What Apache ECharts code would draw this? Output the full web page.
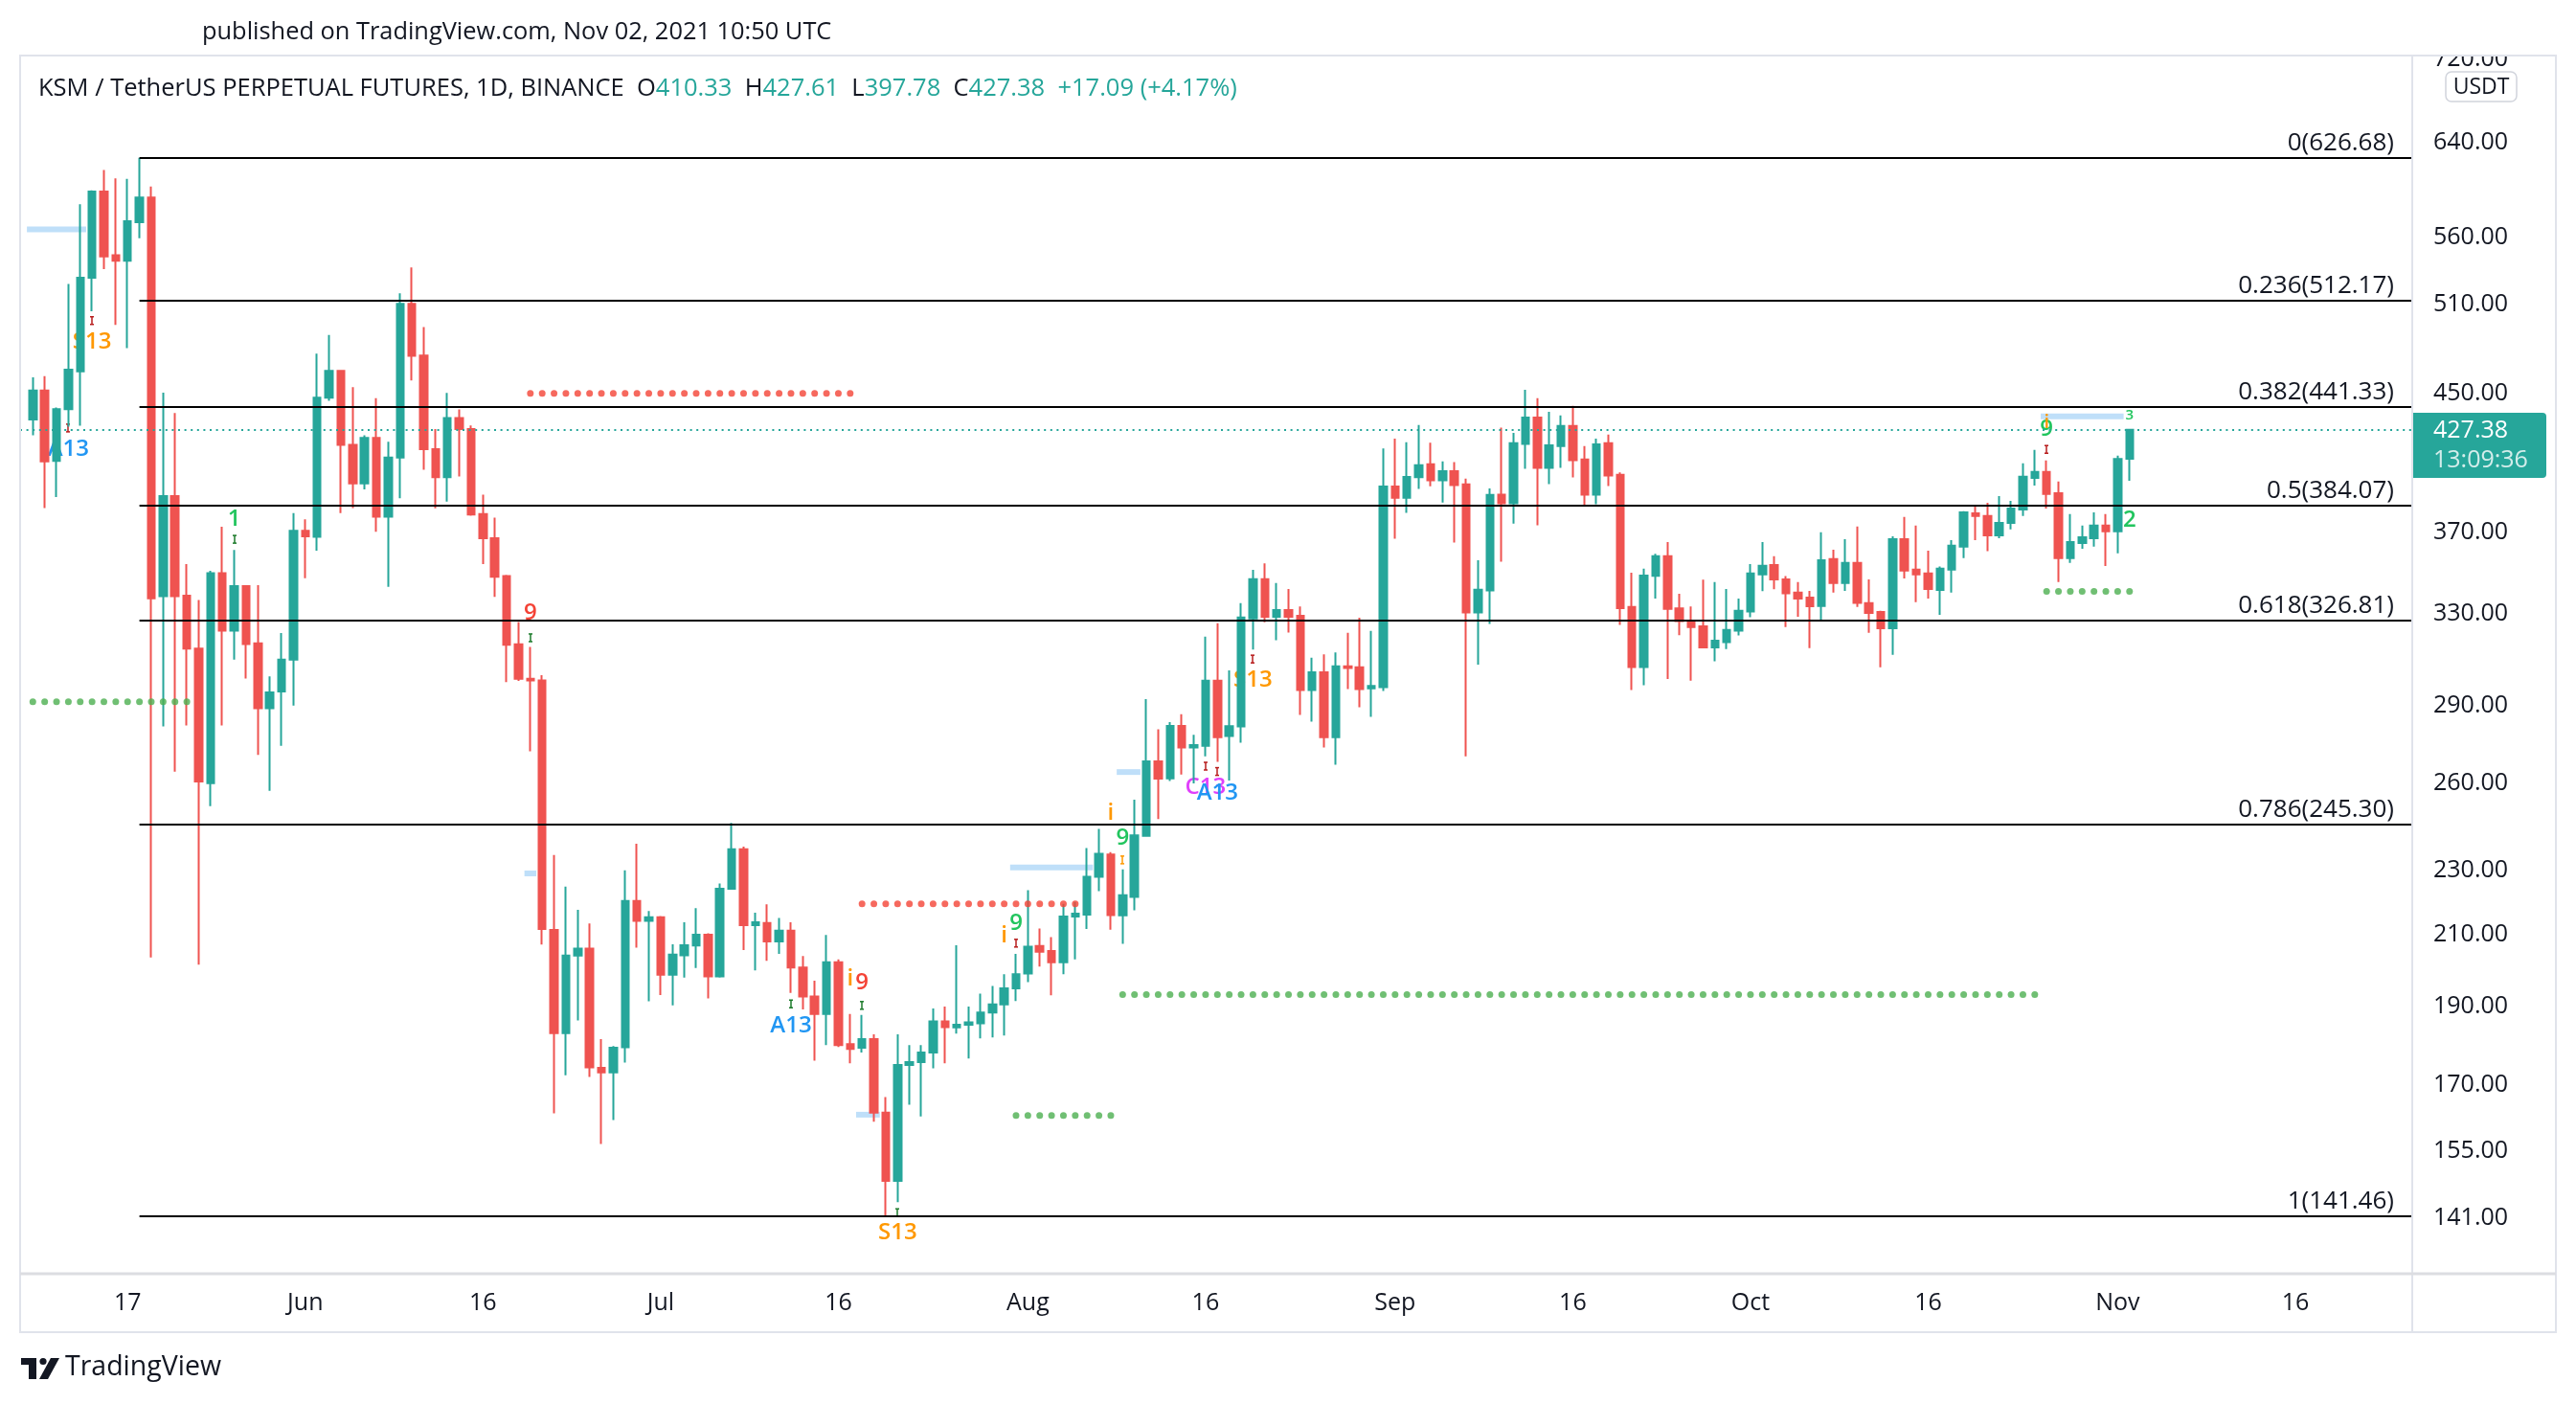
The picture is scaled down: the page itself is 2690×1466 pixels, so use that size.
<!DOCTYPE html>
<html><head><meta charset="utf-8">
<script src="https://cdn.jsdelivr.net/npm/echarts@6/dist/echarts.min.js"></script>
<style>html,body{margin:0;padding:0;background:#fff}#c{width:2690px;height:1466px}</style>
</head><body><div id="c"></div>
<script>
// ---------- DATA ----------
const firstDay = '2021-05-09';
const dayCount = 201; // categories May 9 .. Nov 25 (empty space on the right)
// daily candles [open, high, low, close], May 9 .. Nov 2 2021
const ohlc = [
[433.6,460.2,424.2,451.7],[451.7,460.9,382.8,408.8],[409.1,441.0,388.8,440.0],[440.0,524.8,429.3,465.2],
[464.1,587.0,429.9,529.3],[529.3,598.6,504.9,597.6],[597.6,615.9,535.8,545.5],[546.3,608.8,495.3,542.1],
[542.1,608.3,479.4,573.2],[572.3,626.68,559.6,592.6],[592.6,601.8,203.5,337.2],[338.2,450.3,281.6,389.3],
[389.3,437.6,264.2,338.2],[338.5,353.8,282.0,314.2],[314.2,336.4,201.4,260.6],[260.0,350.5,251.7,349.4],
[349.4,372.9,282.0,322.2],[322.2,361.0,309.4,343.0],[343.0,343.5,301.2,316.2],[316.5,343.5,270.5,288.9],
[288.9,302.1,257.2,295.4],[295.8,321.1,274.0,309.4],[309.4,380.1,290.0,370.8],[370.8,376.9,346.9,368.0],
[367.7,475.7,360.6,447.2],[447.2,488.4,445.2,464.4],[464.4,465.0,380.1,418.4],[418.4,453.8,382.8,396.4],
[396.4,424.2,393.0,422.6],[422.6,446.8,370.3,378.3],[378.3,420.3,342.7,411.0],[411.0,517.9,388.2,510.3],
[510.3,537.1,458.1,474.3],[474.5,493.9,404.0,416.0],[416.0,427.8,382.7,399.9],[399.9,450.2,386.3,434.5],
[434.5,439.8,400.2,427.8],[427.8,430.0,378.8,379.4],[379.7,390.2,353.9,367.0],[367.0,377.7,337.9,347.6],
[347.9,348.5,299.7,315.9],[316.1,326.1,300.2,301.1],[301.1,314.9,271.9,300.4],[300.4,302.7,207.2,211.8],
[211.5,235.0,163.4,182.9],[182.9,224.8,172.4,204.0],[204.0,217.6,186.2,206.0],[206.0,213.4,172.0,174.3],
[174.2,181.4,156.5,173.1],[173.1,179.6,161.9,179.2],[179.3,230.0,175.5,220.3],[220.3,238.8,206.3,214.2],
[214.2,217.2,191.3,215.3],[215.3,215.7,193.0,198.6],[198.6,207.3,190.2,204.3],[204.1,213.8,197.8,207.0],
[206.9,218.1,200.5,210.1],[210.1,210.5,192.1,198.1],[198.1,225.8,197.8,224.1],[224.1,245.9,224.0,236.9],
[236.9,237.8,205.6,212.9],[212.9,216.7,199.8,213.8],[213.6,219.3,202.5,208.1],[208.1,215.1,204.5,211.3],
[211.3,213.8,193.6,200.6],[200.6,203.9,189.1,192.6],[192.6,196.9,176.0,187.9],[187.9,210.0,179.9,202.1],
[202.1,202.9,179.4,179.9],[180.1,187.9,175.3,178.9],[179.2,187.7,178.0,181.4],[181.4,182.6,161.5,163.6],
[163.6,167.2,141.46,148.6],[148.6,182.6,144.2,174.9],[174.9,179.9,165.4,175.6],[175.6,179.9,162.7,178.0],
[178.0,189.4,174.1,186.0],[186.0,189.9,175.3,184.5],[184.4,207.0,182.8,185.1],[185.1,189.9,176.5,185.7],
[185.5,193.4,181.6,188.3],[188.3,195.5,181.8,190.5],[190.5,198.7,182.3,194.8],[194.8,204.5,191.4,198.7],
[198.9,223.7,196.5,206.6],[206.8,211.9,200.9,205.1],[205.3,209.4,192.9,202.1],[202.1,219.4,198.7,215.5],
[215.5,220.0,202.9,216.4],[216.1,237.3,211.8,227.9],[227.9,243.8,223.4,235.4],[235.2,236.0,211.6,216.0],
[215.9,230.3,207.4,222.1],[221.6,254.0,217.4,241.6],[241.4,292.6,241.1,268.1],[268.1,280.5,247.2,261.7],
[261.8,283.3,260.8,281.8],[281.8,286.5,263.2,273.4],[273.4,278.3,259.9,274.3],[274.0,319.5,270.0,300.3],
[300.3,325.6,267.9,277.4],[277.8,304.7,261.0,281.7],[281.6,334.9,275.2,328.2],[327.8,351.0,313.8,346.4],
[346.4,354.2,326.0,328.6],[328.6,344.5,317.9,331.7],[331.7,341.7,321.3,328.6],[329.0,333.4,286.2,296.4],
[296.4,310.2,283.5,303.9],[303.9,311.7,273.4,277.4],[277.4,312.5,266.8,306.4],[306.4,321.2,296.8,305.7],
[306.0,328.1,289.3,296.8],[297.1,322.1,285.4,298.1],[297.6,416.4,296.0,394.7],[394.7,422.2,366.7,388.5],
[388.5,420.0,380.3,400.0],[399.8,430.3,393.3,406.6],[407.2,419.8,394.8,398.1],[398.1,408.8,385.8,403.3],
[403.3,408.5,364.7,395.4],[395.8,399.0,270.0,330.6],[330.6,355.8,307.2,341.3],[341.0,393.6,325.3,390.0],
[390.1,428.7,355.0,385.4],[385.4,425.6,374.6,419.4],[419.0,452.2,404.6,434.9],[434.9,446.8,373.7,405.1],
[405.1,438.4,396.0,418.2],[417.8,436.1,405.1,429.7],[429.7,442.0,399.7,409.5],[409.9,417.7,383.9,390.1],
[390.1,422.2,384.9,418.8],[419.4,424.5,394.9,400.8],[401.2,402.6,324.8,332.6],[333.1,349.6,296.4,306.1],
[306.1,351.6,298.4,348.2],[348.0,359.0,337.1,357.8],[357.8,365.0,301.0,332.2],[332.5,339.4,320.2,326.6],
[326.7,333.4,300.3,323.8],[324.2,346.2,314.5,314.7],[314.7,345.0,308.6,317.7],[317.1,341.7,314.0,322.5],
[322.2,337.1,320.1,331.3],[331.0,353.9,328.3,349.2],[348.8,365.0,340.6,353.0],[353.4,357.8,341.5,346.3],
[346.3,347.9,323.8,339.6],[339.9,345.0,328.6,337.1],[337.6,340.8,314.4,333.5],[333.6,370.0,326.7,355.8],
[356.3,361.1,339.9,344.5],[344.5,366.5,340.8,354.4],[354.4,373.0,333.1,335.1],[334.9,346.3,321.2,330.4],
[330.8,331.3,306.0,323.3],[323.3,368.0,311.4,366.5],[366.5,378.1,346.8,350.6],[351.1,373.5,335.4,348.7],
[349.2,360.6,337.1,341.7],[341.2,352.6,329.5,351.6],[351.1,366.0,339.9,363.1],[362.6,381.2,356.8,380.6],
[380.0,383.7,366.0,378.6],[378.6,385.7,360.3,368.5],[368.5,389.4,367.0,375.0],[375.0,386.7,371.6,382.6],
[382.1,407.7,378.6,400.1],[399.5,415.5,395.2,402.8],[402.8,409.4,382.6,390.5],[391.0,397.4,345.0,356.8],
[356.8,379.6,354.4,365.0],[364.5,373.5,361.6,367.5],[367.0,380.6,362.6,373.5],[373.5,379.6,352.9,370.5],
[370.5,412.1,359.2,410.29],[410.33,427.61,397.78,427.38]
];
// Fibonacci retracement
const fibStart = '2021-05-18';
const fibRatios = ['0','0.236','0.382','0.5','0.618','0.786','1'];
const fibPrices = [626.68,512.17,441.33,384.07,326.81,245.30,141.46];
// price-axis tick labels
const tickValues = [720,640,560,510,450,370,330,290,260,230,210,190,170,155,141];
// time-axis labels
const timeLabels = [['2021-05-17','17'],['2021-06-01','Jun'],['2021-06-16','16'],['2021-07-01','Jul'],
  ['2021-07-16','16'],['2021-08-01','Aug'],['2021-08-16','16'],['2021-09-01','Sep'],['2021-09-16','16'],
  ['2021-10-01','Oct'],['2021-10-16','16'],['2021-11-01','Nov'],['2021-11-16','16']];
// TD dotted levels [start, end, price, colour]
const dotLevels = [
  ['2021-05-09','2021-05-22',291.5,'g'],
  ['2021-06-20','2021-07-17',449.9,'r'],
  ['2021-07-18','2021-08-05',219.4,'r'],
  ['2021-07-31','2021-08-08',162.9,'g'],
  ['2021-08-09','2021-10-25',193.1,'g'],
  ['2021-10-26','2021-11-02',340.5,'g']
];
// light-blue TD lines [start, end, price]
const blueBars = [
  ['2021-05-09','2021-05-13',566.7],
  ['2021-06-20','2021-06-20',229.0],
  ['2021-07-18','2021-07-19',163.1],
  ['2021-07-31','2021-08-06',230.9],
  ['2021-08-09','2021-08-10',264.1],
  ['2021-10-26','2021-11-01',435.5]
];
// TD sequential labels [date, price, text, colour, size]
const tdLabels = [
  ['2021-05-14',483.8,'S13','o',24],['2021-05-12',416.0,'A13','b',24],['2021-05-26',376.9,'1','g',24],
  ['2021-06-20',330.3,'9','r',24],['2021-07-12',184.8,'A13','b',24],['2021-07-17',197.4,'i','o',24],
  ['2021-07-18',196.4,'9','r',24],['2021-07-21',138.1,'S13','o',24],['2021-07-30',209.8,'i','o',24],
  ['2021-07-31',213.5,'9','g',24],['2021-08-08',249.2,'i','o',24],['2021-08-09',240.8,'9','g',24],
  ['2021-08-16',258.6,'C13','m',24],['2021-08-17',256.4,'A13','b',24],['2021-08-20',300.6,'S13','o',24],
  ['2021-10-26',427.7,'9','g',24],['2021-10-26',431.6,'i','o',20],['2021-11-02',435.9,'3','g',15],
  ['2021-11-02',376.4,'2','g',24]
];
// small TD bar markers [date, price, colour]
const tdMarks = [
  ['2021-05-14',498.4,'dr'],['2021-05-12',428.5,'dr'],['2021-05-26',366.4,'dg'],['2021-06-20',319.0,'dg'],
  ['2021-07-12',190.6,'dg'],['2021-07-18',190.2,'dg'],['2021-07-21',142.1,'dg'],['2021-07-31',207.6,'dr'],
  ['2021-08-09',233.4,'o'],['2021-08-16',266.3,'dr'],['2021-08-17',264.3,'dr'],['2021-08-20',309.6,'dr'],
  ['2021-10-26',415.8,'dr']
];
const countdown = '13:09:36';

// ---------- BUILD ----------
const dates = [];
{ const d0 = new Date(firstDay + 'T00:00:00Z');
  for (let k = 0; k < dayCount; k++) { const d = new Date(d0.getTime() + k*86400000); dates.push(d.toISOString().slice(0,10)); } }
const idx = d => dates.indexOf(d);
const labelMap = {}; timeLabels.forEach(([d,t]) => labelMap[d] = t);
const COL = {o:'#ff9800', b:'#2196f3', g:'#22c55e', r:'#f44336', m:'#e040fb', dr:'#b71c1c', dg:'#1b7a2a'};
const UP = '#26a69a', DOWN = '#ef5350';
const FONT = '"Open Sans", "Noto Sans", sans-serif';
const BW = 12.37;
const PLOT_L = 21, PLOT_R = 2519, FRAME_R = 2669, PLOT_B = 1330, FRAME_B = 1391, FRAME_T = 58;

const last = ohlc[ohlc.length-1], prev = ohlc[ohlc.length-2];
const chg = last[3] - prev[3], pct = chg / prev[3] * 100;

const candleData = ohlc.map(d => [d[0], d[3], d[2], d[1]]);

const dotSeries = dotLevels.map(([s,e,p,c]) => {
  const data = [];
  for (let k = idx(s); k <= idx(e); k++) data.push([k, p]);
  return {type:'scatter', data, symbol:'circle', symbolSize:7, z:4, silent:true,
    itemStyle:{color: c === 'g' ? '#4caf50' : '#f44336'}};
});

const chart = echarts.init(document.getElementById('c'), null, {renderer:'canvas', width:2690, height:1466});
chart.setOption({
  animation:false,
  backgroundColor:'#ffffff',
  grid:{left:28.1, top:FRAME_T+1, width:dayCount*BW, bottom:1466-PLOT_B},
  xAxis:{type:'category', data:dates, boundaryGap:true,
    axisLine:{show:false}, axisTick:{show:false}, splitLine:{show:false},
    axisLabel:{interval:(i,v) => labelMap[v] !== undefined, formatter:v => labelMap[v] || '',
      color:'#131722', fontFamily:FONT, fontSize:25, margin:18}},
  yAxis:{type:'log', logBase:10, min:130.4, max:722.6, position:'right',
    axisLine:{show:false}, axisTick:{show:false}, axisLabel:{show:false}, splitLine:{show:false}},
  series:[
    // light blue TD lines
    {type:'custom', z:1, silent:true, clip:false,
      data: blueBars.map(([s,e,p]) => [idx(s), idx(e), p]),
      renderItem(params, api){
        const a = api.coord([api.value(0), api.value(2)]), b = api.coord([api.value(1), api.value(2)]);
        return {type:'rect', shape:{x:a[0]-BW/2, y:a[1]-3, width:b[0]-a[0]+BW, height:6},
          style:{fill:'#bfdff9'}};
      }},
    // TD labels (behind candles)
    {type:'custom', z:1, silent:true, clip:false,
      data: tdLabels.map((t,k) => [idx(t[0]), t[1], k]),
      renderItem(params, api){
        const t = tdLabels[api.value(2)];
        const p = api.coord([api.value(0), api.value(1)]);
        return {type:'text', x:p[0], y:p[1], style:{text:t[2], fill:COL[t[3]],
          font:'600 ' + t[4] + 'px ' + FONT, align:'center', verticalAlign:'middle'}};
      }},
    {type:'custom', z:1, silent:true, clip:false,
      data: tdMarks.map((t,k) => [idx(t[0]), t[1], k]),
      renderItem(params, api){
        const t = tdMarks[api.value(2)];
        const p = api.coord([api.value(0), api.value(1)]);
        const c = COL[t[2]], x = Math.round(p[0]), y = p[1];
        return {type:'group', children:[
          {type:'line', shape:{x1:x, y1:y-4, x2:x, y2:y+4}, style:{stroke:c, lineWidth:1.5}},
          {type:'line', shape:{x1:x-2, y1:y-4, x2:x+2, y2:y-4}, style:{stroke:c, lineWidth:1.5}},
          {type:'line', shape:{x1:x-2, y1:y+4, x2:x+2, y2:y+4}, style:{stroke:c, lineWidth:1.5}}
        ]};
      }},
    // candles
    {type:'candlestick', z:2, data:candleData, barWidth:8, silent:true,
      itemStyle:{color:UP, color0:DOWN, borderColor:UP, borderColor0:DOWN, borderWidth:2}},
    ...dotSeries,
    // fibonacci
    {type:'custom', z:5, silent:true, clip:false,
      data: fibPrices.map((p,k) => [idx(fibStart), p, k]),
      renderItem(params, api){
        const k = api.value(2);
        const p = api.coord([api.value(0), api.value(1)]);
        const y = Math.round(p[1]);
        return {type:'group', children:[
          {type:'line', shape:{x1:p[0], y1:y, x2:PLOT_R, y2:y}, style:{stroke:'#000000', lineWidth:2}},
          {type:'text', x:PLOT_R-19, y:y-15, style:{text:fibRatios[k] + '(' + fibPrices[k].toFixed(2) + ')',
            fill:'#131722', font:'26px ' + FONT, align:'right', verticalAlign:'middle'}}
        ]};
      }},
    // price axis labels
    {type:'custom', z:6, silent:true, clip:false,
      data: tickValues.map(v => [0, v]),
      renderItem(params, api){
        const p = api.coord([0, api.value(1)]);
        return {type:'text', x:PLOT_R+22, y:p[1], style:{text:api.value(1).toFixed(2),
          fill:'#131722', font:'25px ' + FONT, align:'left', verticalAlign:'middle'}};
      }},
    // current price line + label
    {type:'custom', z:7, silent:true, clip:false,
      data: [[ohlc.length-1, last[3]]],
      renderItem(params, api){
        const p = api.coord([api.value(0), api.value(1)]);
        const y = Math.round(p[1]);
        return {type:'group', children:[
          {type:'line', shape:{x1:PLOT_L, y1:y, x2:PLOT_R, y2:y}, style:{stroke:UP, lineWidth:2, lineDash:[2,4.6]}},
          {type:'rect', shape:{x:PLOT_R, y:y-18, width:140, height:68, r:[0,4,4,0]}, style:{fill:UP}},
          {type:'text', x:PLOT_R+22, y:y+1, style:{text:api.value(1).toFixed(2), fill:'#ffffff',
            font:'25px ' + FONT, align:'left', verticalAlign:'middle'}},
          {type:'text', x:PLOT_R+22, y:y+32, style:{text:countdown, fill:'rgba(255,255,255,0.8)',
            font:'25px ' + FONT, align:'left', verticalAlign:'middle'}}
        ]};
      }}
  ],
  graphic:[
    {type:'rect', z:100, shape:{x:PLOT_R+1, y:0, width:FRAME_R-PLOT_R-2, height:FRAME_T-1}, style:{fill:'#ffffff'}},
    {type:'rect', z:101, shape:{x:PLOT_L, y:FRAME_T, width:FRAME_R-PLOT_L, height:FRAME_B-FRAME_T}, style:{fill:null, stroke:'#e0e3eb', lineWidth:2}},
    {type:'line', z:101, shape:{x1:PLOT_R, y1:FRAME_T, x2:PLOT_R, y2:FRAME_B}, style:{stroke:'#e0e3eb', lineWidth:2}},
    {type:'line', z:101, shape:{x1:PLOT_L, y1:PLOT_B, x2:FRAME_R, y2:PLOT_B}, style:{stroke:'#dcdde1', lineWidth:3}},
    {type:'rect', z:102, shape:{x:2554, y:75, width:74, height:31, r:6}, style:{fill:'#ffffff', stroke:'#d1d4dc', lineWidth:1.5}},
    {type:'text', z:103, x:2591, y:91, style:{text:'USDT', fill:'#131722', font:'23px ' + FONT, align:'center', verticalAlign:'middle'}},
    {type:'text', z:103, x:211, y:34, style:{text:'published on TradingView.com, Nov 02, 2021 10:50 UTC', fill:'#131722', font:'25.4px ' + FONT, align:'left', verticalAlign:'middle'}},
    {type:'text', z:103, x:40, y:93, style:{
      text:'{n|KSM / TetherUS PERPETUAL FUTURES, 1D, BINANCE}  {n|O}{v|' + last[0].toFixed(2) + '}  {n|H}{v|' + last[1].toFixed(2) +
        '}  {n|L}{v|' + last[2].toFixed(2) + '}  {n|C}{v|' + last[3].toFixed(2) + '}  {v|' + (chg>=0?'+':'') + chg.toFixed(2) +
        ' (' + (pct>=0?'+':'') + pct.toFixed(2) + '%)}',
      font:'25.5px ' + FONT, verticalAlign:'middle', align:'left',
      rich:{n:{fill:'#131722', font:'25.5px ' + FONT}, v:{fill:UP, font:'25.5px ' + FONT}}}},
    // TradingView logo
    {type:'group', z:103, children:[
      {type:'rect', shape:{x:22, y:1418, width:16, height:7}, style:{fill:'#131722'}},
      {type:'rect', shape:{x:30, y:1418, width:8, height:22}, style:{fill:'#131722'}},
      {type:'circle', shape:{cx:45, cy:1421.5, r:3.6}, style:{fill:'#131722'}},
      {type:'polygon', shape:{points:[[53,1418],[62,1418],[50,1440],[41,1440]]}, style:{fill:'#131722'}},
      {type:'text', x:68, y:1428, style:{text:'TradingView', fill:'#131722', font:'28.5px ' + FONT, align:'left', verticalAlign:'middle'}}
    ]}
  ]
});
</script></body></html>
